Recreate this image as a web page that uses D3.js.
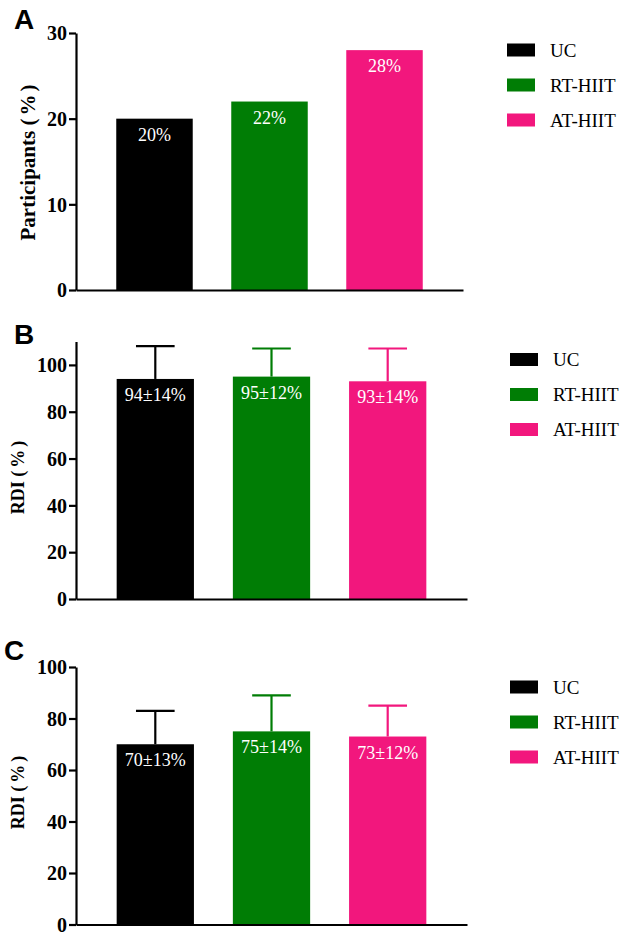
<!DOCTYPE html>
<html>
<head>
<meta charset="utf-8">
<script src="https://cdn.jsdelivr.net/npm/d3@7"></script>
<style>
  html, body { margin: 0; padding: 0; background: #fff; }
  svg { display: block; }
  .serif { font-family: "Liberation Serif", "Times New Roman", "DejaVu Serif", serif; }
  .sans { font-family: "Liberation Sans", Arial, sans-serif; }
</style>
</head>
<body>
<svg id="chart" width="627" height="937"></svg>
<script>
// ---------- data ----------
const groups = ["UC", "RT-HIIT", "AT-HIIT"];
const groupColors = ["#000000", "#007d05", "#f2177d"];

const participantsPct = [20, 22, 28];
const ticksA = [0, 10, 20, 30];

const rdiB_mean = [94, 95, 93];
const rdiB_sd = [14, 12, 14];
const ticksB = [0, 20, 40, 60, 80, 100];

const rdiC_mean = [70, 75, 73];
const rdiC_sd = [13, 14, 12];
const ticksC = [0, 20, 40, 60, 80, 100];

// ---------- layout ----------
const panels = [
  { letter: "A", letterX: 14, letterY: 29, ylabel: "Participants", yMax: 30,
    x0: 76, x1: 463, yTop: 33, yBottom: 290, labelX: 35, labelY: 161, labelSize: 21,
    values: participantsPct, sd: null, ticks: ticksA,
    legX: 507, legY: 50, textX: 550 },
  { letter: "B", letterX: 14, letterY: 344, ylabel: "RDI", yMax: 110,
    x0: 76, x1: 467, yTop: 341.5, yBottom: 599, labelX: 24, labelY: 476, labelSize: 18,
    values: rdiB_mean, sd: rdiB_sd, ticks: ticksB,
    legX: 510, legY: 359.5, textX: 553 },
  { letter: "C", letterX: 4, letterY: 660, ylabel: "RDI", yMax: 100,
    x0: 76, x1: 467, yTop: 667, yBottom: 924.5, labelX: 24, labelY: 791, labelSize: 18,
    values: rdiC_mean, sd: rdiC_sd, ticks: ticksC,
    legX: 510, legY: 687, textX: 553 }
];

const svg = d3.select("#chart");

panels.forEach(p => {
  const g = svg.append("g");

  const x = d3.scaleBand()
    .domain(groups)
    .range([p.x0, p.x1])
    .paddingInner(0.335)
    .paddingOuter(0.35);

  const y = d3.scaleLinear()
    .domain([0, p.yMax])
    .range([p.yBottom, p.yTop]);

  // bars
  g.selectAll("rect.bar")
    .data(groups)
    .join("rect")
    .attr("class", "bar")
    .attr("x", d => x(d))
    .attr("width", x.bandwidth())
    .attr("y", (d, i) => y(p.values[i]))
    .attr("height", (d, i) => y(0) - y(p.values[i]))
    .attr("fill", (d, i) => groupColors[i]);

  // error bars (upper only)
  if (p.sd) {
    const eb = g.selectAll("g.err")
      .data(groups)
      .join("g")
      .attr("class", "err")
      .attr("stroke", (d, i) => groupColors[i])
      .attr("stroke-width", 2.2);
    eb.append("line")
      .attr("x1", d => x(d) + x.bandwidth() / 2)
      .attr("x2", d => x(d) + x.bandwidth() / 2)
      .attr("y1", (d, i) => y(p.values[i]))
      .attr("y2", (d, i) => y(p.values[i] + p.sd[i]));
    eb.append("line")
      .attr("x1", d => x(d) + x.bandwidth() / 4)
      .attr("x2", d => x(d) + x.bandwidth() * 3 / 4)
      .attr("y1", (d, i) => y(p.values[i] + p.sd[i]))
      .attr("y2", (d, i) => y(p.values[i] + p.sd[i]));
  }

  // value labels inside bars
  g.selectAll("text.val")
    .data(groups)
    .join("text")
    .attr("class", "val serif")
    .attr("x", d => x(d) + x.bandwidth() / 2)
    .attr("y", (d, i) => y(p.values[i]) + 22)
    .attr("text-anchor", "middle")
    .attr("fill", "#ffffff")
    .attr("font-size", 18)
    .text((d, i) => p.sd ? `${p.values[i]}±${p.sd[i]}%` : `${p.values[i]}%`);

  // y axis
  const yAxis = d3.axisLeft(y)
    .tickValues(p.ticks)
    .tickFormat(d3.format("d"))
    .tickSize(7)
    .tickSizeOuter(0)
    .tickPadding(2);
  const ya = g.append("g")
    .attr("transform", `translate(${p.x0},0)`)
    .call(yAxis)
    .attr("font-family", null)
    .attr("font-size", null);
  ya.select(".domain").attr("stroke", "#000").attr("stroke-width", 2.2);
  ya.selectAll(".tick line").attr("stroke", "#000").attr("stroke-width", 2.2);
  ya.selectAll(".tick text")
    .attr("class", "serif")
    .attr("fill", "#000")
    .attr("font-weight", "bold")
    .attr("font-size", 20)
    .attr("dy", "0.34em");

  // x axis (baseline only)
  const xAxis = d3.axisBottom(x).tickValues([]).tickSizeOuter(0);
  const xa = g.append("g")
    .attr("transform", `translate(0,${y(0)})`)
    .call(xAxis);
  xa.select(".domain").attr("stroke", "#000").attr("stroke-width", 2.2);

  // y label
  const lab = g.append("text")
    .attr("class", "serif")
    .attr("transform", `translate(${p.labelX},${p.labelY}) rotate(-90)`)
    .attr("text-anchor", "middle")
    .attr("fill", "#000")
    .attr("font-weight", "bold")
    .attr("font-size", p.labelSize);
  lab.append("tspan").text(p.ylabel + " ");
  lab.append("tspan").attr("letter-spacing", 3).text("(%)");

  // panel letter
  g.append("text")
    .attr("class", "sans")
    .attr("x", p.letterX)
    .attr("y", p.letterY)
    .attr("fill", "#000")
    .attr("font-weight", "bold")
    .attr("font-size", 28)
    .text(p.letter);

  // legend
  const ly = d3.scalePoint().domain(groups).range([p.legY, p.legY + 70]);
  const leg = g.selectAll("g.leg")
    .data(groups)
    .join("g")
    .attr("class", "leg")
    .attr("transform", d => `translate(0,${ly(d)})`);
  leg.append("rect")
    .attr("x", p.legX)
    .attr("y", -6.5)
    .attr("width", 28)
    .attr("height", 13)
    .attr("fill", (d, i) => groupColors[i]);
  leg.append("text")
    .attr("class", "serif")
    .attr("x", p.textX)
    .attr("y", 0)
    .attr("dy", "0.35em")
    .attr("fill", "#000")
    .attr("font-size", 19)
    .text(d => d);
});
</script>
</body>
</html>
